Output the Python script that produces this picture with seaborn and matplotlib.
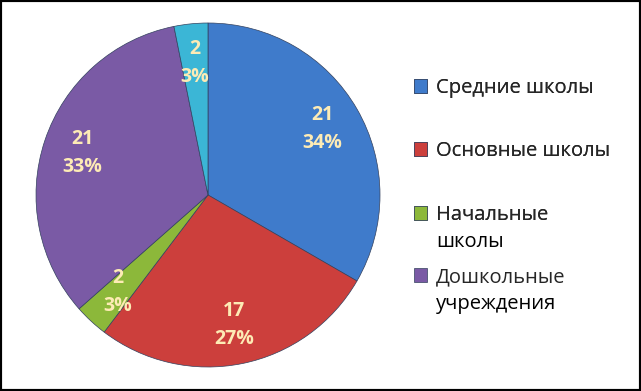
import matplotlib
matplotlib.use("Agg")
import matplotlib.pyplot as plt
import seaborn as sns
from matplotlib.patches import Rectangle
from matplotlib.font_manager import FontProperties

categories = ["Средние школы", "Основные школы", "Начальные", "Дошкольные"]
categories_line2 = ["", "", "школы", "учреждения"]
values = [21, 17, 2, 21, 2]
pct_labels = ["34%", "27%", "3%", "33%", "3%"]
colors = ["#3F7BCB", "#CC3F3C", "#8CB83A", "#7A5AA5", "#3BB6D6"]

sns.set_theme(style="white")
plt.rcParams['font.family'] = ['Open Sans', 'DejaVu Sans']

W, H = 641, 391
fig = plt.figure(figsize=(W / 100, H / 100), dpi=100)
fig.patch.set_facecolor("white")

cx, cy, r = 208, 195, 172
ax = fig.add_axes([(cx - r) / W, (H - cy - r) / H, 2 * r / W, 2 * r / H])

texts = [f"{v}\n{p}" for v, p in zip(values, pct_labels)]
wedges, labs = ax.pie(values, colors=colors, startangle=90, counterclock=False,
                      labels=texts, labeldistance=0.77,
                      wedgeprops=dict(edgecolor="#33415e", linewidth=0.5))
for t in labs:
    t.set_color("#FDEBB5")
    t.set_fontsize(14)
    t.set_fontweight("bold")
    t.set_ha("center")
    t.set_va("center")
    t.set_linespacing(1.55)
ax.set_aspect("equal")
ax.set_xlim(-1.0, 1.0)
ax.set_ylim(-1.0, 1.0)

leg_font = {"family": ["Open Sans", "DejaVu Sans"], "size": 14.5}
entry_y = [88, 151, 215, 277]
legends = []
for i in range(4):
    leg = fig.legend([wedges[i]], [categories[i]], loc="center left",
                     bbox_to_anchor=(414 / W, 1 - entry_y[i] / H), frameon=False,
                     prop=leg_font, handlelength=0.65, handleheight=0.65,
                     handletextpad=0.45, borderaxespad=0, borderpad=0)
    legends.append(leg)
    if i < 3:
        fig.add_artist(leg)

fig.canvas.draw()
rend = fig.canvas.get_renderer()
for i in range(4):
    if categories_line2[i]:
        bb = legends[i].get_texts()[0].get_window_extent(rend)
        fig.text(bb.x0 / W, 1 - (entry_y[i] + 27) / H, categories_line2[i],
                 fontproperties=FontProperties(**leg_font),
                 ha="left", va="center", color="black")

fig.patches.append(Rectangle((0, 0), 1, 1, transform=fig.transFigure,
                             fill=False, edgecolor="black", linewidth=3))

fig.savefig("out.png", dpi=100)
